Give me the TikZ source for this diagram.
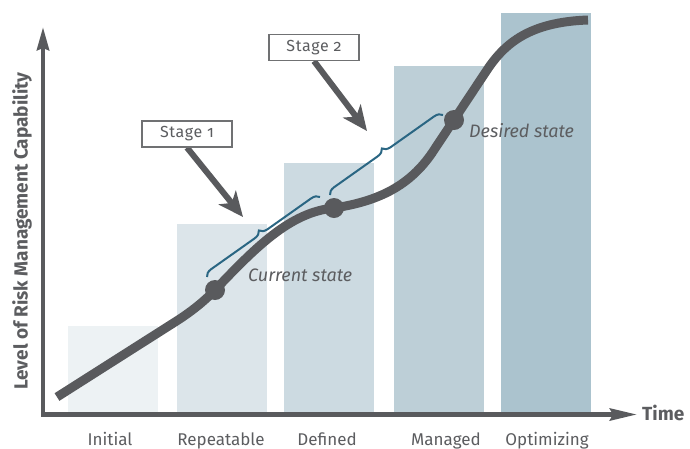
\documentclass[tikz,border=0pt]{standalone}
\usepackage{fontspec}
\setmainfont{Fira Sans}
\newfontfamily\stagefont[Numbers=OldStyle,LetterSpace=4]{Fira Sans}
\usetikzlibrary{arrows.meta,decorations.pathreplacing}
\definecolor{curvegray}{HTML}{595A5D}
\definecolor{textgray}{HTML}{5C5D60}
\definecolor{boxgray}{HTML}{707173}
\definecolor{teal}{HTML}{2A6683}
\definecolor{barA}{HTML}{EDF2F4}
\definecolor{barB}{HTML}{DCE5EA}
\definecolor{barC}{HTML}{CCDAE1}
\definecolor{barD}{HTML}{BDCFD7}
\definecolor{barE}{HTML}{ABC3CE}
\begin{document}
\begin{tikzpicture}[x=1pt,y=-1pt,
  axis/.style={draw=curvegray,line width=4.5pt},
  curve/.style={draw=curvegray,line width=9pt},
  dotmark/.style={circle,fill=curvegray,minimum size=20pt,inner sep=0pt},
  stagebox/.style={draw=boxgray,line width=1.2pt,fill=white,minimum width=90pt,minimum height=26pt,inner sep=0pt,font=\stagefont\fontsize{16}{16}\selectfont,text=textgray},
  stagearrow/.style={draw=curvegray,line width=6pt,-{Stealth[length=25pt,width=22pt,inset=7pt]}},
  catlabel/.style={font=\fontsize{17}{17}\selectfont,text=textgray,anchor=base},
  statelabel/.style={font=\itshape\fontsize{18}{18}\selectfont,text=textgray,anchor=west},
  bracestyle/.style={draw=teal,line width=2pt,decorate,decoration={brace,amplitude=8pt}}
]
\clip (0,0) rectangle (690,448);
\useasboundingbox (0,0) rectangle (690,448);
\fill[white] (0,0) rectangle (690,448);
% bars
\fill[barA] (68,326) rectangle (158,414);
\fill[barB] (177,224) rectangle (267,414);
\fill[barC] (284,163) rectangle (374,414);
\fill[barD] (394,66) rectangle (484,414);
\fill[barE] (501,13) rectangle (591,414);
% axes
\coordinate (origin) at (43,414.5);
\coordinate (ytop) at (43,27);
\coordinate (xend) at (637,414.5);
\draw[axis,-{Stealth[length=23pt,width=12pt,inset=2pt]}] ([yshift=2pt]origin) -- (ytop);
\draw[axis,-{Stealth[length=27pt,width=12pt,inset=3pt]}] ([xshift=-2pt]origin) -- (xend);
\node[font=\bfseries\fontsize{19}{19}\selectfont,text=textgray,anchor=west,inner sep=0pt] (time) at (642,413) {Time};
\node[font=\bfseries\fontsize{19}{19}\selectfont,text=textgray,rotate=90,inner sep=0pt] (ylab) at (22,231) {Level of Risk Management Capability};
% category labels
\node[catlabel] (c1) at (110,445) {Initial};
\node[catlabel] (c2) at (221,445) {Repeatable};
\node[catlabel] (c3) at (327,445) {Defined};
\node[catlabel] (c4) at (446,445) {Managed};
\node[catlabel] (c5) at (547,445) {Optimizing};
% braces
\coordinate (b1a) at (207,277);
\coordinate (b1b) at (320,197);
\coordinate (b2a) at (330,195);
\coordinate (b2b) at (443,115);
\draw[bracestyle] (b1a) -- (b1b);
\draw[bracestyle] (b2a) -- (b2b);
% curve
\draw[curve] (57,397) -- (175,322) .. controls (190,312.5) and (203,302.5) .. (215,290)
  .. controls (255,248) and (290,212) .. (334,208)
  .. controls (380,201) and (410,185) .. (432,153) -- (487,70)
  .. controls (505,43) and (530,22) .. (588,20);
\node[dotmark] (cur) at (215,290) {};
\node[dotmark] (def) at (334,208) {};
\node[dotmark] (des) at (454,120) {};
\node[statelabel,inner sep=0pt] (curlab) at (248,275) {Current state};
\node[statelabel,inner sep=0pt] (deslab) at (469,131) {Desired state};
% stage boxes and arrows
\coordinate (t1) at (243,217);
\coordinate (t2) at (367,131);
\node[stagebox] (s1) at (187,134) {Stage 1};
\node[stagebox] (s2) at (314,47.5) {Stage 2};
\draw[stagearrow] (s1.south) -- (t1);
\draw[stagearrow] (s2.south) -- (t2);
\node[stagebox] at (s1) {Stage 1};
\node[stagebox] at (s2) {Stage 2};
\end{tikzpicture}
\end{document}
